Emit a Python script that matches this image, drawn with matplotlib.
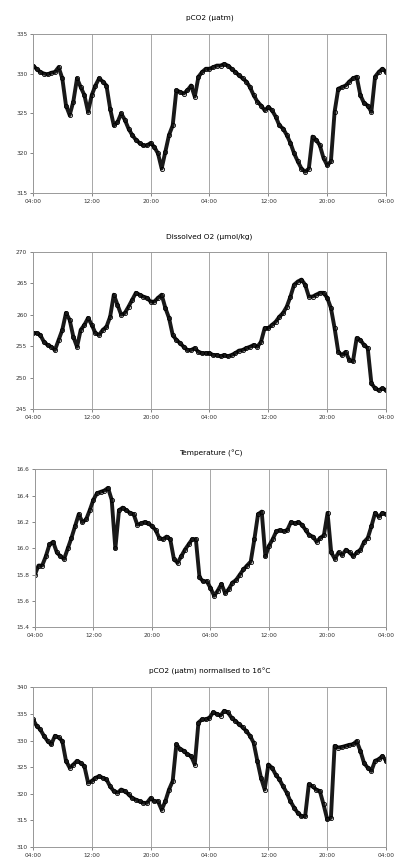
import numpy as np
import matplotlib
matplotlib.use("Agg")
from matplotlib import pyplot as plt

# hours since 04:00 on the first day, half-hour steps
hours = [i * 0.5 for i in range(97)]
tick_hours = [0, 8, 16, 24, 32, 40, 48]
tick_labels = ["04:00", "12:00", "20:00", "04:00", "12:00", "20:00", "04:00"]

pco2 = [331.0, 330.6, 330.2, 330.0, 329.9, 330.1, 330.2, 330.8, 329.4, 326.0,
        324.8, 326.5, 329.4, 328.3, 327.3, 325.2, 327.3, 328.5, 329.4, 329.0,
        328.5, 325.6, 323.5, 323.9, 325.0, 324.2, 323.1, 322.3, 321.7, 321.3,
        321.0, 321.0, 321.3, 320.8, 320.0, 318.1, 320.2, 322.3, 323.5, 327.9,
        327.7, 327.5, 327.9, 328.5, 327.1, 329.6, 330.2, 330.6, 330.6, 330.8,
        331.0, 331.0, 331.2, 331.0, 330.6, 330.2, 329.8, 329.4, 329.0, 328.3,
        327.3, 326.5, 326.0, 325.4, 325.8, 325.4, 324.6, 323.5, 323.1, 322.3,
        321.3, 320.0, 319.0, 318.1, 317.7, 318.1, 322.1, 321.7, 321.0, 319.4,
        318.5, 319.0, 325.2, 328.1, 328.3, 328.5, 329.0, 329.4, 329.6, 327.3,
        326.3, 326.0, 325.2, 329.6, 330.2, 330.6, 330.2]

oxygen = [257.1, 257.1, 256.8, 255.7, 255.2, 254.9, 254.4, 256.0, 257.6, 260.3,
          259.2, 256.5, 254.9, 257.6, 258.4, 259.5, 258.4, 257.1, 256.8, 257.6,
          258.1, 259.7, 263.2, 261.6, 260.0, 260.3, 261.3, 262.4, 263.5, 263.2,
          262.9, 262.7, 262.1, 262.1, 262.7, 263.2, 261.1, 259.5, 256.8, 256.0,
          255.5, 254.9, 254.4, 254.4, 254.7, 254.1, 253.9, 253.9, 253.9, 253.6,
          253.6, 253.4, 253.6, 253.4, 253.6, 253.9, 254.3, 254.4, 254.7, 254.9,
          255.2, 254.9, 255.7, 257.9, 257.9, 258.4, 258.9, 259.7, 260.3, 261.3,
          262.9, 264.8, 265.3, 265.6, 264.8, 262.9, 262.9, 263.2, 263.5, 263.5,
          262.7, 261.1, 257.9, 254.1, 253.6, 254.1, 252.8, 252.6, 256.3, 256.0,
          255.2, 254.7, 249.1, 248.3, 248.0, 248.3, 248.0]

temperature = [15.80, 15.87, 15.87, 15.94, 16.03, 16.05, 15.97, 15.94, 15.92, 16.00,
               16.08, 16.17, 16.26, 16.20, 16.22, 16.29, 16.37, 16.42, 16.43, 16.44,
               16.46, 16.37, 16.00, 16.29, 16.31, 16.29, 16.27, 16.26, 16.18, 16.19,
               16.20, 16.19, 16.17, 16.14, 16.08, 16.07, 16.09, 16.07, 15.92, 15.89,
               15.94, 15.99, 16.03, 16.07, 16.07, 15.78, 15.75, 15.75, 15.70, 15.64,
               15.68, 15.73, 15.66, 15.69, 15.74, 15.76, 15.80, 15.84, 15.87, 15.90,
               16.07, 16.26, 16.28, 15.94, 16.02, 16.07, 16.13, 16.14, 16.13, 16.14,
               16.20, 16.19, 16.20, 16.18, 16.14, 16.10, 16.09, 16.05, 16.08, 16.10,
               16.27, 15.97, 15.92, 15.97, 15.95, 15.99, 15.97, 15.94, 15.97, 15.99,
               16.05, 16.08, 16.17, 16.27, 16.24, 16.27, 16.26]

pco2_norm = [334.0, 332.8, 332.1, 330.9, 329.9, 329.3, 330.9, 330.6, 329.9, 326.2,
             324.9, 325.5, 326.2, 325.8, 325.2, 322.1, 322.4, 323.0, 323.3, 323.0,
             322.7, 321.4, 320.5, 320.2, 320.8, 320.5, 319.9, 319.2, 318.9, 318.6,
             318.3, 318.3, 319.2, 318.6, 318.6, 317.0, 318.6, 320.8, 322.4, 329.3,
             328.4, 328.1, 327.4, 327.1, 325.5, 333.4, 334.0, 334.0, 334.3, 335.3,
             335.0, 334.7, 335.6, 335.3, 334.3, 333.7, 333.1, 332.5, 331.8, 330.9,
             329.6, 326.2, 323.0, 320.8, 325.5, 324.9, 323.6, 322.7, 321.4, 320.2,
             318.6, 317.4, 316.4, 315.8, 315.8, 321.8, 321.4, 320.8, 320.5, 318.0,
             315.2, 315.5, 329.0, 328.7, 328.8, 329.0, 329.2, 329.3, 329.9, 328.1,
             325.8, 324.9, 324.3, 326.2, 326.5, 327.1, 326.2]

panels = [
    ("pCO2 (µatm)", pco2, (315, 335), [315, 320, 325, 330, 335], "%d"),
    ("Dissolved O2 (µmol/kg)", oxygen, (245, 270), [245, 250, 255, 260, 265, 270], "%d"),
    ("Temperature (°C)", temperature, (15.4, 16.6),
     [15.4, 15.6, 15.8, 16.0, 16.2, 16.4, 16.6], "%.1f"),
    ("pCO2 (µatm) normalised to 16°C", pco2_norm, (310, 340),
     [310, 315, 320, 325, 330, 335, 340], "%d"),
]

# axes boxes in figure fractions: left, bottom, width, height
boxes = [
    (0.083, 0.776, 0.892, 0.185),
    (0.083, 0.526, 0.892, 0.182),
    (0.088, 0.273, 0.887, 0.183),
    (0.083, 0.0185, 0.892, 0.185),
]


def main():
    fig = plt.figure(figsize=(3.96, 8.63), dpi=100)
    for (title, values, ylim, yticks, fmt), box in zip(panels, boxes):
        ax = fig.add_axes(box)
        ax.plot(hours, values, color="black", lw=2.8, alpha=0.9)
        ax.plot(hours, values, "o", ms=3, mfc="none", mec="black", mew=0.6)
        ax.set_xlim(0, 48)
        ax.set_ylim(*ylim)
        ax.set_xticks(tick_hours)
        ax.set_xticklabels(tick_labels)
        ax.set_yticks(yticks)
        ax.set_yticklabels([fmt % v for v in yticks])
        ax.xaxis.grid(True, color="#999999", lw=0.6)
        ax.tick_params(labelsize=4.2, length=2, width=0.5, colors="#555555",
                       labelcolor="#333333", pad=2)
        for s in ax.spines.values():
            s.set_color("#999999")
            s.set_linewidth(0.7)
        ax.set_title(title, fontsize=5.3, pad=10)
    fig.savefig("out.png", dpi=100)


if __name__ == "__main__":
    main()
